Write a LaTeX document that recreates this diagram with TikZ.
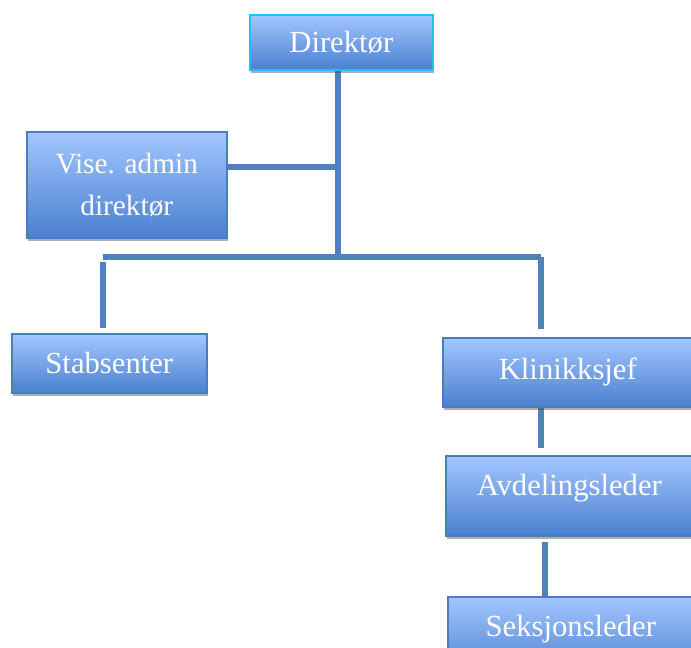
\documentclass[tikz,border=0pt]{standalone}
\usepackage{fontspec}
\setmainfont{Liberation Serif}
\usetikzlibrary{positioning,calc,shadows,backgrounds}
\definecolor{cTop}{HTML}{A3C6FF}
\definecolor{cBot}{HTML}{4A80CF}
\definecolor{cEdge}{HTML}{4A7EBB}
\definecolor{cCyan}{HTML}{22C0F2}
\definecolor{cLink}{HTML}{4F81BD}

\begin{document}
\begin{tikzpicture}[
  x=0.75pt, y=-0.75pt,
  post/.style={rectangle, draw=cEdge, line width=1.2pt, top color=cTop, bottom color=cBot,
               text=white, anchor=north west, inner sep=0pt, align=center,
               font=\fontsize{23}{28}\selectfont,
               drop shadow={shadow xshift=0.8pt, shadow yshift=-2.6pt, opacity=0.45, fill=black!70}},
  link/.style={draw=cLink, line width=4.2pt},
]
\useasboundingbox (0,0) rectangle (691,648);

% ---------- Posts ----------
\node[post, draw=cCyan, minimum width=137.25pt, minimum height=41.25pt] (dir) at (249,14) {Direktør};
\node[post, minimum width=150pt, minimum height=79.5pt, font=\fontsize{22}{31.5}\selectfont] (vise) at (26,131)
  {Vise. admin\\direktør};
\node[post, minimum width=146.25pt, minimum height=44.25pt] (stab) at (11,333) {Stabsenter};
\node[post, minimum width=187.5pt, minimum height=51.75pt] (klin) at (442,337) {Klinikksjef};
\node[post, minimum width=185.25pt, minimum height=60pt, text depth=17pt] (avd) at (445,455) {Avdelingsleder};
\node[post, minimum width=184.5pt, minimum height=60pt, text depth=17pt] (seks) at (447,596) {Seksjonsleder};

% ---------- Lines ----------
\coordinate (hub) at (338,257);
\coordinate (barL) at (103,257);
\coordinate (barR) at (541,257);
\coordinate (viseJ) at ($(vise.east)+(0,-18)$);
\coordinate (seksX) at (545,0);
\begin{scope}[on background layer]
  \draw[link] (dir.south -| hub) -- (hub);
  \draw[link] (viseJ) -- (viseJ -| hub);
  \draw[link] (barL) -- (barR);
  \draw[link, shorten <=4pt, shorten >=4pt] (barL) -- (stab.north -| barL);
  \draw[link, shorten >=6pt] (barR) -- (klin.north -| barR);
  \draw[link, shorten >=5pt] (klin.south -| barR) -- (avd.north -| barR);
  \draw[link, shorten <=4pt] (avd.south -| seksX) -- (seks.north -| seksX);
\end{scope}

\end{tikzpicture}
\end{document}
